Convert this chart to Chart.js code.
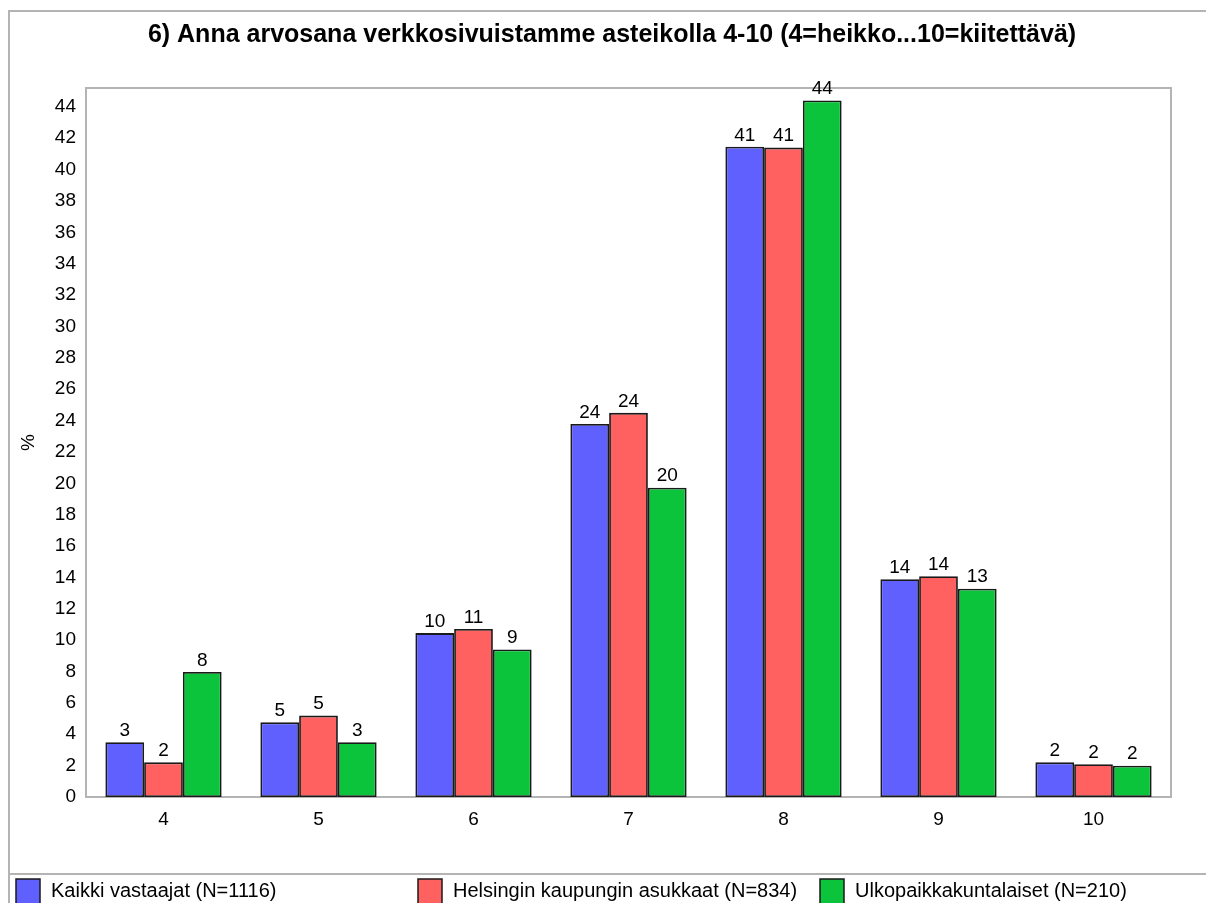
<!DOCTYPE html>
<html lang="fi">
<head>
<meta charset="utf-8">
<title>Arvosana verkkosivuille</title>
<script src="https://cdn.jsdelivr.net/npm/chart.js@4/dist/chart.umd.min.js"></script>
<style>
  html, body { margin: 0; padding: 0; background: #fff; }
  #wrap { width: 1206px; height: 903px; }
</style>
</head>
<body>
<div id="wrap"><canvas id="c" width="1206" height="903"></canvas></div>
<script>
// Survey question 6: grade for the website on a 4-10 scale, share of respondents (%)
const titleText = '6) Anna arvosana verkkosivuistamme asteikolla 4-10 (4=heikko...10=kiitettävä)';
const grades = ['4', '5', '6', '7', '8', '9', '10'];
const allRespondents = [3.49, 4.76, 10.45, 23.78, 41.45, 13.88, 2.21];
const helsinkiResidents = [2.21, 5.19, 10.71, 24.49, 41.4, 14.08, 2.09];
const otherMunicipalities = [7.97, 3.49, 9.41, 19.72, 44.4, 13.28, 2.0];
const seriesNames = [
  'Kaikki vastaajat (N=1116)',
  'Helsingin kaupungin asukkaat (N=834)',
  'Ulkopaikkakuntalaiset (N=210)'
];
const yTicks = [0, 2, 4, 6, 8, 10, 12, 14, 16, 18, 20, 22, 24, 26, 28, 30, 32, 34, 36, 38, 40, 42, 44];
const yAxisTitle = '%';

const FONT = '"Liberation Sans", Arial, sans-serif';
const FRAME = '#b4b4b4';
const colors = ['#6060FF', '#FF6060', '#0CC43C'];

// Title, outer frame, plot frame, value labels and the legend row
const decorations = {
  id: 'decorations',
  beforeDraw(chart) {
    const ctx = chart.ctx;
    ctx.save();
    ctx.strokeStyle = FRAME;
    ctx.lineWidth = 2;
    ctx.beginPath();
    ctx.moveTo(9, 903); ctx.lineTo(9, 11); ctx.lineTo(1206, 11);
    ctx.moveTo(9, 874); ctx.lineTo(1206, 874);
    ctx.stroke();
    ctx.fillStyle = '#000';
    ctx.font = 'bold 25px ' + FONT;
    ctx.textAlign = 'center';
    ctx.textBaseline = 'middle';
    ctx.fillText(titleText, 612, 35);
    ctx.restore();
  },
  beforeDatasetsDraw(chart) {
    const {ctx, chartArea: a} = chart;
    ctx.save();
    ctx.strokeStyle = FRAME;
    ctx.lineWidth = 2;
    ctx.strokeRect(a.left, a.top, a.right - a.left, a.bottom - a.top);
    ctx.restore();
  },
  afterDatasetsDraw(chart) {
    const ctx = chart.ctx;
    ctx.save();
    ctx.fillStyle = '#000';
    ctx.font = '19px ' + FONT;
    ctx.textAlign = 'center';
    ctx.textBaseline = 'bottom';
    chart.data.datasets.forEach((ds, i) => {
      chart.getDatasetMeta(i).data.forEach((bar, j) => {
        ctx.fillText(String(Math.round(ds.data[j])), bar.x, bar.y - 2);
      });
    });
    ctx.restore();
  },
  afterDraw(chart) {
    const ctx = chart.ctx;
    ctx.save();
    ctx.font = '20px ' + FONT;
    ctx.textBaseline = 'middle';
    ctx.textAlign = 'left';
    chart.data.datasets.forEach((ds, i) => {
      const x = 16 + i * 402;
      ctx.fillStyle = ds.backgroundColor;
      ctx.fillRect(x, 879, 24, 26);
      ctx.strokeStyle = '#1a1a1a';
      ctx.lineWidth = 1.5;
      ctx.strokeRect(x, 879, 24, 26);
      ctx.fillStyle = '#000';
      ctx.fillText(ds.label, x + 35, 891);
    });
    ctx.restore();
  }
};

new Chart(document.getElementById('c'), {
  type: 'bar',
  data: {
    labels: grades,
    datasets: [allRespondents, helsinkiResidents, otherMunicipalities].map((d, i) => ({
      label: seriesNames[i],
      data: d,
      backgroundColor: colors[i],
      borderColor: '#1a1a1a',
      borderWidth: 1.8,
      borderSkipped: false,
      barPercentage: 1.0,
      categoryPercentage: 0.75
    }))
  },
  options: {
    responsive: false,
    animation: false,
    layout: { padding: { top: 88, right: 35, bottom: 0, left: 0 } },
    plugins: { legend: { display: false }, title: { display: false }, tooltip: { enabled: false } },
    scales: {
      x: {
        grid: { display: false, drawTicks: false },
        border: { display: false },
        ticks: { color: '#000', font: { family: FONT, size: 19 }, padding: 11 },
        afterFit(scale) { scale.height = 106; }
      },
      y: {
        min: 0,
        max: 45.2,
        grid: { display: false, drawTicks: false },
        border: { display: false },
        ticks: { color: '#000', font: { family: FONT, size: 19 }, padding: 10 },
        title: { display: true, text: yAxisTitle, color: '#000', font: { family: FONT, size: 19 }, padding: { top: 17, bottom: 0 } },
        afterBuildTicks(scale) { scale.ticks = yTicks.map(v => ({ value: v })); },
        afterFit(scale) { scale.width = 86; }
      }
    }
  },
  plugins: [decorations]
});
</script>
</body>
</html>
